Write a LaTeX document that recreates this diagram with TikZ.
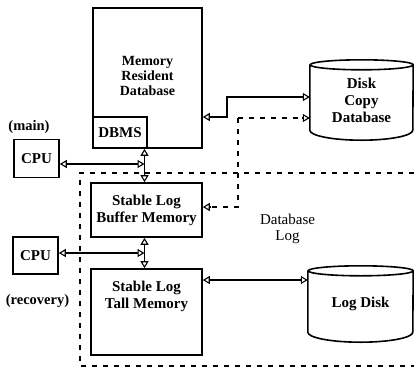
\documentclass[tikz,border=0pt]{standalone}
\usepackage{fontspec}
\setmainfont{Liberation Serif}
\usetikzlibrary{arrows.meta}

\tikzset{
  box/.style={draw, line width=1.6pt, rectangle, inner sep=0pt, align=center,
              font=\fontsize{15}{17}\selectfont\bfseries},
  cylbody/.style={draw, line width=1.6pt},
  cyltext/.style={inner sep=0pt, align=center, font=\fontsize{15}{17}\selectfont\bfseries},
  tag/.style={inner sep=0pt, align=center, font=\fontsize{14.5}{16}\selectfont\bfseries},
  plain/.style={inner sep=0pt, align=center, font=\fontsize{15}{16}\selectfont},
  link/.style={line width=1.1pt, {Triangle[open,length=7pt,width=8pt]}-{Triangle[open,length=7pt,width=8pt]}},
  onearrow/.style={line width=1.1pt, -{Triangle[open,length=7pt,width=8pt]}},
  logline/.style={line width=1.4pt, dash pattern=on 5pt off 6pt},
}

\begin{document}
\begin{tikzpicture}[x=1pt,y=1pt]
  \useasboundingbox (0,0) rectangle (414,-370);

  % main memory with its DBMS corner
  \node[box, minimum width=109, minimum height=140] (mrd) at (147.5,-78) {};
  \node[inner sep=0pt, align=center, font=\fontsize{14}{15}\selectfont\bfseries]
       (mrdtext) at (147.5,-76) {Memory\\Resident\\Database};
  \node[box, minimum width=54, minimum height=31, anchor=south west] (dbms) at (mrd.south west) {DBMS};

  % processors
  \node[box, minimum width=45, minimum height=38] (cpu1) at (36.5,-158.5) {CPU};
  \node[tag, anchor=south] (mainlbl) at (29,-134) {(main)};
  \node[box, minimum width=45, minimum height=37] (cpu2) at (35.5,-255.5) {CPU};
  \node[tag] (reclbl) at (37.5,-301) {(recovery)};

  % stable log memories
  \node[box, minimum width=111, minimum height=54] (slb) at (146.5,-210) {Stable Log\\Buffer Memory};
  \node[box, minimum width=111, minimum height=86] (slt) at (146.5,-312) {};
  \node[cyltext] (slttext) at (146.5,-296) {Stable Log\\Tall Memory};

  % disks
  \node[cyltext, minimum width=103, minimum height=80] (dcd) at (361.5,-100) {Disk\\Copy\\Database};
  \draw[cylbody] ([yshift=-5]dcd.north west) -- ([yshift=10]dcd.south west)
      arc[start angle=180, end angle=360, x radius=51.5, y radius=10]
      -- ([yshift=-5]dcd.north east)
      arc[start angle=0, end angle=360, x radius=51.5, y radius=5];

  \node[cyltext, minimum width=105, minimum height=76] (ld) at (360.5,-304) {Log Disk};
  \draw[cylbody] ([yshift=-5]ld.north west) -- ([yshift=10]ld.south west)
      arc[start angle=180, end angle=360, x radius=52.5, y radius=10]
      -- ([yshift=-5]ld.north east)
      arc[start angle=0, end angle=360, x radius=52.5, y radius=5];

  \node[plain] (dblog) at (287.5,-229) {Database\\Log};

  % junctions on the memory bus
  \coordinate (j1) at (144.5,-164);
  \coordinate (j2) at (144.5,-253);

  \draw[link] (cpu1.east |- j1) -- (j1);
  \draw[onearrow] (j1) -- (mrd.south -| j1);
  \draw[onearrow] (j1) -- (slb.north -| j1);

  \draw[link] (cpu2.east |- j2) -- (j2);
  \draw[onearrow] (j2) -- (slb.south -| j2);
  \draw[onearrow] (j2) -- (slt.north -| j2);

  % memory to disk copy
  \coordinate (bend1) at (227,-117);
  \coordinate (bend2) at (227,-97);
  \draw[link] (mrd.east |- bend1) -- (bend1) -- (bend2) -- (dcd.west |- bend2);

  % log buffer to disk copy
  \coordinate (lc1) at (238,-118);
  \coordinate (lc2) at (238,-207);
  \draw[logline] (lc1) -- (lc2) -- ([xshift=8]slb.east |- lc2);
  \draw[logline] (lc1) -- ([xshift=-8]dcd.west |- lc1);
  \draw[onearrow] ([xshift=8]slb.east |- lc2) -- (slb.east |- lc2);
  \draw[onearrow] ([xshift=-8]dcd.west |- lc1) -- (dcd.west |- lc1);

  % tail memory to log disk
  \coordinate (lt) at (202,-280);
  \draw[link] (slt.east |- lt) -- (ld.west |- lt);

  % database log boundary
  \coordinate (b1) at (414,-173);
  \coordinate (b2) at (80,-173);
  \coordinate (b3) at (80,-366);
  \coordinate (b4) at (414,-366);
  \draw[logline] (b1) -- (b2) -- (b3) -- (b4);
\end{tikzpicture}
\end{document}
